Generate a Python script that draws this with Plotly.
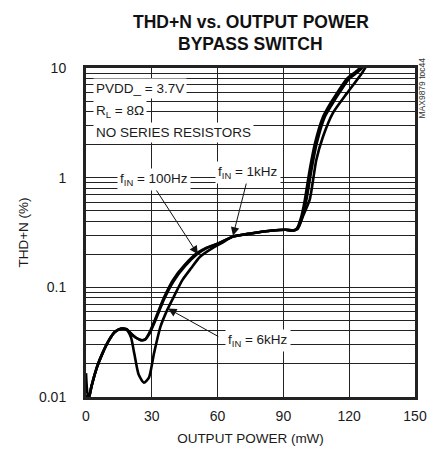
import math
import plotly.graph_objects as go

# ---------------- data ----------------
p_100hz = [0.4, 1.2, 2.5, 5.0, 7.5, 10.5, 13.0, 16.0, 18.5, 20.5, 23.0, 25.0, 27.0, 29.0,
           32.0, 35.6, 39.7, 45.0, 50.6, 55.0, 60.0, 67.0, 75.0, 85.0, 91.0, 94.0, 96.0,
           98.0, 99.8, 102.0, 104.4, 108.0, 111.0, 114.4, 119.0, 124.0, 127.0]
thd_100hz = [0.0105, 0.0098, 0.0125, 0.0187, 0.025, 0.033, 0.039, 0.042, 0.0415, 0.038,
             0.0345, 0.033, 0.0335, 0.039, 0.054, 0.081, 0.117, 0.16, 0.205, 0.23, 0.25,
             0.29, 0.31, 0.33, 0.335, 0.33, 0.34, 0.43, 0.63, 1.18, 2.06, 3.56, 4.6, 5.9,
             8.0, 9.6, 11.5]

p_1khz = [0.4, 1.2, 2.5, 5.0, 7.5, 10.5, 13.0, 16.0, 18.5, 20.5, 23.0, 25.0, 27.0, 29.0,
          32.0, 35.6, 39.7, 45.0, 50.6, 55.0, 60.0, 67.0, 75.0, 85.0, 91.0, 94.5, 96.5,
          98.5, 100.5, 102.8, 105.2, 108.8, 112.0, 115.4, 120.0, 125.0, 128.0]
thd_1khz = [0.0105, 0.0098, 0.0125, 0.0187, 0.025, 0.033, 0.039, 0.042, 0.0415, 0.038,
            0.0345, 0.033, 0.0335, 0.038, 0.052, 0.078, 0.112, 0.155, 0.2, 0.228, 0.25,
            0.29, 0.31, 0.33, 0.335, 0.33, 0.34, 0.43, 0.63, 1.18, 2.06, 3.56, 4.6, 5.9,
            8.0, 9.6, 11.5]

p_6khz = [0.0, 0.6, 1.4, 2.5, 5.0, 7.5, 10.5, 13.0, 16.0, 18.5, 20.5, 22.0, 24.0, 26.4,
          28.7, 31.0, 34.0, 37.0, 40.0, 44.0, 48.0, 52.0, 58.0, 62.0, 67.0, 75.0, 85.0,
          91.0, 95.0, 97.0, 99.0, 102.0, 105.0, 108.0, 112.6, 119.0, 126.0, 129.0]
thd_6khz = [0.0165, 0.011, 0.0098, 0.0125, 0.0187, 0.025, 0.033, 0.039, 0.042, 0.041,
            0.035, 0.025, 0.016, 0.0135, 0.015, 0.025, 0.044, 0.062, 0.082, 0.117, 0.15,
            0.19, 0.23, 0.255, 0.29, 0.31, 0.33, 0.335, 0.33, 0.36, 0.45, 0.63, 1.45,
            2.35, 3.9, 5.9, 9.1, 11.5]

x_ticks = [0, 30, 60, 90, 120, 150]
y_grid = [0.01, 0.02, 0.03, 0.04, 0.05, 0.06, 0.07, 0.08, 0.09,
          0.1, 0.2, 0.3, 0.4, 0.5, 0.6, 0.7, 0.8, 0.9,
          1, 2, 3, 4, 5, 6, 7, 8, 9, 10]
y_labels = {0.01: "0.01", 0.1: "0.1", 1: "1", 10: "10"}

FONT = "Liberation Sans, Arial, Helvetica, sans-serif"
INK = "#1a1a1a"

fig = go.Figure()
for xs, ys in [(p_100hz, thd_100hz), (p_1khz, thd_1khz), (p_6khz, thd_6khz)]:
    fig.add_trace(go.Scatter(x=xs, y=ys, mode="lines",
                             line=dict(color="black", width=2.6, shape="spline", smoothing=0.6),
                             showlegend=False, hoverinfo="skip"))

fig.update_layout(
    width=427, height=456,
    margin=dict(l=86, r=12, t=68, b=59, autoexpand=False),
    paper_bgcolor="white", plot_bgcolor="white",
    font=dict(family=FONT, size=13, color=INK),
    showlegend=False,
)
fig.update_xaxes(range=[0, 150], tickvals=x_ticks, ticktext=[str(v) for v in x_ticks],
                 showgrid=True, gridcolor="#222", gridwidth=1, zeroline=False,
                 showline=True, linecolor="#222", linewidth=3, mirror=True,
                 ticks="outside", ticklen=4, tickcolor="rgba(0,0,0,0)", automargin=False,
                 ticklabeloverflow="allow",
                 title=dict(text="OUTPUT POWER (mW)", font=dict(size=13.5), standoff=11),
                 tickfont=dict(size=14))
fig.update_yaxes(type="log", range=[-2, 1], tickvals=y_grid,
                 ticktext=[y_labels.get(v, "") for v in y_grid],
                 showgrid=True, gridcolor="#222", gridwidth=1, zeroline=False,
                 showline=True, linecolor="#222", linewidth=3, mirror=True,
                 ticks="outside", ticklen=14, tickcolor="rgba(0,0,0,0)", automargin=False,
                 title=dict(text="THD+N (%)", font=dict(size=13.5), standoff=8),
                 tickfont=dict(size=14))

# chart title (two lines)
fig.add_annotation(text="<b>THD+N vs. OUTPUT POWER</b>", x=0.5, xref="paper", y=1, yref="paper",
                   yanchor="middle", yshift=46, showarrow=False, font=dict(family=FONT, size=17.5, color="#111"))
fig.add_annotation(text="<b>BYPASS SWITCH</b>", x=0.5, xref="paper", y=1, yref="paper",
                   yanchor="middle", yshift=24, showarrow=False, font=dict(family=FONT, size=17.5, color="#111"))

ann_font = dict(family=FONT, size=13.5, color=INK)

def label(text, x, y, xanchor="center"):
    # y given in data units; log axis annotations take log10 positions
    fig.add_annotation(text=text, x=x, y=math.log10(y), xref="x", yref="y", showarrow=False,
                       xanchor=xanchor, yanchor="middle", bgcolor="white", borderpad=2, font=ann_font)

def arrow(x_tip, y_tip, x_tail, y_tail):
    fig.add_annotation(text="", x=x_tip, y=math.log10(y_tip), ax=x_tail, ay=math.log10(y_tail),
                       xref="x", yref="y", axref="x", ayref="y", showarrow=True,
                       arrowhead=2, arrowsize=1.7, arrowwidth=1, arrowcolor="#111")

arrow(51, 0.2, 31.5, 0.8)
arrow(67, 0.295, 73.3, 0.92)
arrow(37.4, 0.064, 61, 0.035)
label("PVDD_ = 3.7V", 3.3, 6.55, "left")
label("R<sub>L</sub> = 8Ω", 3.3, 4.05, "left")
label("NO SERIES RESISTORS", 3.3, 2.6, "left")
label("f<sub>IN</sub> = 100Hz", 31, 0.97)
label("f<sub>IN</sub> = 1kHz", 74, 1.12)
label("f<sub>IN</sub> = 6kHz", 78.4, 0.033)

fig.add_annotation(text="MAX9879 toc44", x=1.0, xref="paper", xanchor="center", xshift=6,
                   y=1.0, yref="paper", yanchor="top", yshift=12, textangle=-90, showarrow=False,
                   font=dict(family=FONT, size=8.5, color="#333"))

# remove the browser's default 8px page margin so the figure fills the window exactly
fig.write_html("out.html", config={"displayModeBar": False},
               post_script="document.body.style.margin='0px';document.body.style.overflow='hidden';")
